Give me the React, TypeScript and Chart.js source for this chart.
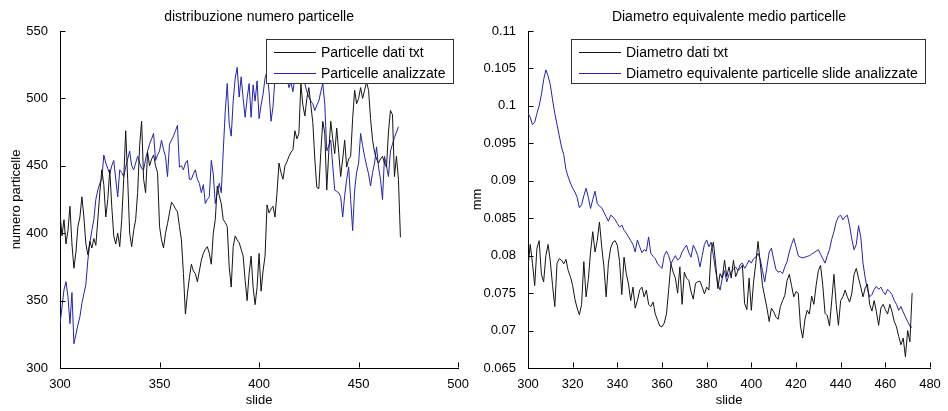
import { useEffect, useRef } from "react";
import { Chart, registerables } from "chart.js";

Chart.register(...registerables);

// ---- data (slide index starts at 300, one value per slide) ----
const SLIDE_START = 300;

const particelleDatiTxt = [
  415, 398, 410, 392, 402, 420, 392, 374, 386, 405,
  412, 427, 412, 392, 384, 394, 389, 396, 391, 410,
  430, 447, 436, 412, 425, 447, 420, 398, 392, 400,
  390, 410, 440, 476, 440, 400, 390, 402, 410, 430,
  465, 483, 440, 430, 460, 450, 455, 458, 450, 445,
  405, 395, 389, 400, 407, 415, 423, 421, 418, 416,
  405, 395, 370, 340, 355, 367, 377, 372, 370, 364,
  372, 380, 385, 388, 390, 385, 377, 400, 410, 435,
  428, 422, 410, 408, 405, 375, 360, 390, 398, 395,
  393, 388, 383, 365, 350, 370, 383, 360, 347, 360,
  385, 357, 372, 383, 421, 415, 418, 420, 412, 430,
  452, 445, 440, 450, 453, 457, 460, 462, 476, 470,
  474, 511, 495, 487, 500, 508, 495, 482, 455, 434,
  433, 460, 483, 474, 432, 460, 483, 470, 459, 478,
  460, 442, 455, 469, 449, 455, 457, 485, 506, 496,
  500, 508, 500, 506, 512, 506, 485, 469, 460, 455,
  452, 455, 457, 452, 449, 475, 491, 488, 442, 457,
  440, 397,
];

const particelleAnalizzate = [
  333, 345, 358, 364, 353, 333, 356, 318, 325, 332,
  338, 348, 355, 362, 380, 393, 402, 410, 425, 432,
  437, 440, 458, 452, 448, 444, 450, 454, 440, 427,
  447, 445, 442, 449, 455, 461, 450, 447, 452, 457,
  452, 448, 447, 455, 461, 466, 470, 474, 454, 458,
  461, 469, 462, 457, 442, 466, 469, 472, 476, 480,
  449, 450, 447, 452, 454, 440, 440, 444, 447, 440,
  437, 430, 436, 422, 425, 427, 454, 444, 422, 430,
  437, 430, 461, 490, 511, 481, 472, 498, 515, 523,
  501, 516, 500, 486, 500, 511, 486, 510, 498, 513,
  485, 495, 503, 515, 520, 505, 483, 494, 515, 525,
  520, 512, 522, 518, 515, 508, 512, 505, 515, 520,
  512, 518, 514, 511, 505, 501, 498, 496, 491, 495,
  498, 505, 511, 496, 461, 465, 469, 450, 432, 431,
  430, 427, 412, 428, 440, 449, 425, 402, 432, 445,
  452, 474, 465, 457, 450, 444, 435, 445, 452, 464,
  449, 440, 425, 457, 450, 442, 461, 466, 471, 475,
  479,
];

const diametroDatiTxt = [
  0.0785, 0.0815, 0.079, 0.076, 0.081, 0.082, 0.0775, 0.0765, 0.08, 0.0815,
  0.0792, 0.076, 0.0732, 0.079, 0.0796, 0.0794, 0.0789, 0.0795, 0.078, 0.0772,
  0.076, 0.0742, 0.073, 0.0721, 0.0735, 0.0792, 0.0745, 0.0768, 0.0805, 0.0832,
  0.0805, 0.082, 0.0845, 0.0812, 0.0785, 0.0745, 0.079, 0.081, 0.0818, 0.082,
  0.0814, 0.0792, 0.0748, 0.0798, 0.0776, 0.0762, 0.074, 0.0758, 0.073, 0.074,
  0.0754, 0.0758, 0.0745, 0.0754, 0.0735, 0.0732, 0.0738, 0.0722, 0.0714, 0.0706,
  0.0705, 0.071, 0.0722, 0.0755, 0.0789, 0.0778, 0.077, 0.075, 0.0785, 0.0735,
  0.0778, 0.077, 0.0767, 0.0752, 0.0742, 0.0763, 0.0765, 0.0766, 0.0758, 0.0749,
  0.0758, 0.0754, 0.0806, 0.0818, 0.079, 0.0756, 0.0776, 0.077, 0.0794, 0.0772,
  0.0785, 0.077, 0.0794, 0.0772, 0.078, 0.0783, 0.0787, 0.0736, 0.0728, 0.077,
  0.0727, 0.0765, 0.079, 0.0819, 0.079, 0.076, 0.0745, 0.073, 0.0712, 0.073,
  0.0725, 0.0718, 0.0715, 0.0732, 0.074, 0.0747, 0.0767, 0.0775, 0.076, 0.0745,
  0.0752, 0.075, 0.0706, 0.069, 0.0715, 0.0727, 0.0722, 0.0746, 0.0735, 0.076,
  0.078, 0.0787, 0.076, 0.0723, 0.072, 0.0706, 0.074, 0.0775, 0.0735, 0.0707,
  0.074, 0.0745, 0.0754, 0.0745, 0.0738, 0.075, 0.0775, 0.0783, 0.077, 0.0758,
  0.0745, 0.0757, 0.0762, 0.0735, 0.0726, 0.074, 0.0725, 0.0707, 0.073, 0.0735,
  0.0728, 0.0722, 0.0735, 0.0725, 0.0712, 0.0705, 0.0692, 0.0681, 0.069, 0.0665,
  0.07, 0.0685, 0.075,
];

const diametroAnalizzate = [
  0.099, 0.0985, 0.0975, 0.0978, 0.099, 0.1, 0.1015, 0.1035, 0.1048, 0.104,
  0.1028, 0.1008, 0.099, 0.0975, 0.096, 0.0945, 0.0935, 0.0915, 0.0905, 0.0897,
  0.089, 0.0885, 0.0878, 0.0864, 0.0868, 0.088, 0.089, 0.0878, 0.0863, 0.0875,
  0.0886, 0.087, 0.0866, 0.0864, 0.0858, 0.0852, 0.0846, 0.0854, 0.0852, 0.0848,
  0.0843, 0.0838, 0.0841, 0.0834, 0.083, 0.0825, 0.082, 0.0815, 0.0805, 0.0821,
  0.0812, 0.0804, 0.0808, 0.0806, 0.0825, 0.0803, 0.0799, 0.0796, 0.0789, 0.0786,
  0.0783, 0.08, 0.0806, 0.08, 0.0789, 0.0795, 0.08, 0.0794, 0.0797, 0.0805,
  0.081, 0.0814, 0.0804, 0.0798, 0.0814, 0.0808, 0.08, 0.0785, 0.08, 0.0815,
  0.0821, 0.0812, 0.0818, 0.08, 0.078, 0.0763, 0.0754, 0.077, 0.078, 0.0765,
  0.0775, 0.0778, 0.0782, 0.0785, 0.078, 0.0788, 0.079, 0.0783, 0.0788, 0.0794,
  0.079, 0.0796, 0.0798, 0.0803, 0.0795, 0.078, 0.0765, 0.0785, 0.0805, 0.081,
  0.0795, 0.0782, 0.0778, 0.0779, 0.0776, 0.0785, 0.0792, 0.0805, 0.0815, 0.0823,
  0.0812, 0.08, 0.0798, 0.0797, 0.0798, 0.0799, 0.08, 0.0802, 0.0804, 0.0806,
  0.0808, 0.0802, 0.0796, 0.079, 0.08, 0.0808, 0.0822, 0.0832, 0.0845, 0.0852,
  0.0854, 0.0848, 0.0852, 0.0854, 0.084, 0.0822, 0.0808, 0.0815, 0.084, 0.0825,
  0.079, 0.077, 0.0755, 0.0745, 0.0748, 0.0755, 0.0759, 0.0755, 0.0758, 0.0752,
  0.0748, 0.0755, 0.0752, 0.0748, 0.074, 0.0735, 0.0727, 0.0732, 0.0725, 0.0718,
  0.0712, 0.0706, 0.0704,
];

const PARTICELLE_LEGEND = ["Particelle dati txt", "Particelle analizzate"];
const DIAMETRO_LEGEND = ["Diametro dati txt", "Diametro equivalente particelle slide analizzate"];

const FONT_FAMILY = '"Liberation Sans", Arial, Helvetica, sans-serif';
const LINE_BLACK = "#141414";
const LINE_BLUE = "#2222b4";
const PAGE_H = 411;

function toPoints(values: number[]) {
  return values.map((v, i) => ({ x: SLIDE_START + i, y: v }));
}

// Inward tick marks, panel title and a boxed legend drawn MATLAB-style.
const matlabDecor = {
  id: "matlabDecor",
  afterDatasetsDraw(chart: any, _args: any, opts: any) {
    const { ctx, chartArea } = chart;
    const { left, right, top, bottom } = chartArea;
    const xs = chart.scales.x;
    const ys = chart.scales.y;

    ctx.save();
    ctx.strokeStyle = "#000";
    ctx.lineWidth = 1;
    ctx.beginPath();
    const bx = Math.round(bottom) - 0.5;
    const lx = Math.round(left) + 0.5;
    xs.ticks.forEach((t: any) => {
      const px = Math.round(xs.getPixelForValue(t.value)) + 0.5;
      ctx.moveTo(px, bx);
      ctx.lineTo(px, bx - 5);
    });
    ys.ticks.forEach((t: any) => {
      const py = Math.round(ys.getPixelForValue(t.value)) + 0.5;
      ctx.moveTo(lx, py);
      ctx.lineTo(lx + 5, py);
    });
    ctx.stroke();

    // legend box
    ctx.font = `${opts.legendFontSize}px ${FONT_FAMILY}`;
    const labels: string[] = chart.data.datasets.map((d: any) => d.label);
    const textW = Math.max(...labels.map((l) => ctx.measureText(l).width));
    const boxW = Math.round(55 + textW + 8);
    const boxH = 45;
    const boxR = Math.round(right - opts.legendInsetRight);
    const boxL = boxR - boxW;
    const boxT = Math.round(top + opts.legendInsetTop);
    ctx.fillStyle = "#fff";
    ctx.fillRect(boxL, boxT, boxW, boxH);
    ctx.strokeStyle = "#333";
    ctx.strokeRect(boxL + 0.5, boxT + 0.5, boxW - 1, boxH - 1);
    ctx.textBaseline = "middle";
    ctx.textAlign = "left";
    chart.data.datasets.forEach((d: any, i: number) => {
      const rowY = Math.round(boxT + 12.5 + i * 21) + 0.5;
      ctx.strokeStyle = d.borderColor;
      ctx.beginPath();
      ctx.moveTo(boxL + 8, rowY);
      ctx.lineTo(boxL + 50, rowY);
      ctx.stroke();
      ctx.fillStyle = "#000";
      ctx.fillText(d.label, boxL + 55, rowY + 0.5);
    });

    // panel title
    ctx.font = `${opts.titleFontSize}px ${FONT_FAMILY}`;
    ctx.textAlign = "center";
    ctx.fillStyle = "#000";
    ctx.fillText(opts.title, (left + right) / 2, top - 14);
    ctx.restore();
  },
};

type PanelProps = {
  canvasLeft: number;
  canvasWidth: number;
  areaLeft: number;
  areaRight: number;
  title: string;
  yTitle: string;
  series: number[][];
  legend: string[];
  xMin: number;
  xMax: number;
  xStep: number;
  yMin: number;
  yMax: number;
  yStep: number;
  yTitlePad: number;
};

function Panel(p: PanelProps) {
  const ref = useRef<HTMLCanvasElement>(null);

  useEffect(() => {
    const tickFont = { family: FONT_FAMILY, size: 13 };
    const chart = new Chart(ref.current as HTMLCanvasElement, {
      type: "line",
      data: {
        datasets: [
          {
            label: p.legend[0],
            data: toPoints(p.series[0]),
            borderColor: LINE_BLACK,
            borderWidth: 1,
            pointRadius: 0,
            tension: 0,
            fill: false,
          },
          {
            label: p.legend[1],
            data: toPoints(p.series[1]),
            borderColor: LINE_BLUE,
            borderWidth: 1,
            pointRadius: 0,
            tension: 0,
            fill: false,
          },
        ],
      },
      options: {
        responsive: false,
        animation: false,
        devicePixelRatio: 1,
        events: [],
        layout: {
          padding: {
            top: 31,
            right: p.canvasWidth - p.areaRight,
            bottom: 0,
            left: 0,
          },
        },
        plugins: {
          legend: { display: false },
          tooltip: { enabled: false },
          matlabDecor: {
            title: p.title,
            titleFontSize: 14,
            legendFontSize: 14,
            legendInsetRight: 4,
            legendInsetTop: 8,
          },
        } as any,
        scales: {
          x: {
            type: "linear",
            min: p.xMin,
            max: p.xMax,
            grid: { display: false },
            border: { display: true, color: "#000", width: 1 },
            ticks: {
              stepSize: p.xStep,
              color: "#000",
              font: tickFont,
              padding: 1,
              maxRotation: 0,
              autoSkip: false,
            },
            title: {
              display: true,
              text: "slide",
              color: "#000",
              font: tickFont,
              padding: { top: 0, bottom: 3 },
            },
            afterFit: (s: any) => {
              s.height = 43;
            },
          },
          y: {
            type: "linear",
            min: p.yMin,
            max: p.yMax,
            grid: { display: false },
            border: { display: true, color: "#000", width: 1 },
            ticks: {
              stepSize: p.yStep,
              color: "#000",
              font: tickFont,
              padding: 4,
              autoSkip: false,
              callback: (v: any) => String(parseFloat(Number(v).toFixed(4))),
            },
            title: {
              display: true,
              text: p.yTitle,
              color: "#000",
              font: tickFont,
              padding: { top: p.yTitlePad, bottom: 0 },
            },
            afterFit: (s: any) => {
              s.width = p.areaLeft;
            },
          },
        },
      } as any,
      plugins: [matlabDecor],
    });
    return () => chart.destroy();
  }, []);

  return (
    <canvas
      ref={ref}
      width={p.canvasWidth}
      height={PAGE_H}
      style={{
        position: "absolute",
        left: p.canvasLeft,
        top: 0,
        width: p.canvasWidth,
        height: PAGE_H,
      }}
    />
  );
}

export default function App() {
  return (
    <div
      style={{
        position: "fixed",
        left: 0,
        top: 0,
        width: 948,
        height: PAGE_H,
        background: "#fff",
        overflow: "hidden",
      }}
    >
      <Panel
        canvasLeft={0}
        canvasWidth={470}
        areaLeft={60}
        areaRight={460}
        title="distribuzione numero particelle"
        yTitle="numero particelle"
        series={[particelleDatiTxt, particelleAnalizzate]}
        legend={PARTICELLE_LEGEND}
        xMin={300}
        xMax={500}
        xStep={50}
        yMin={300}
        yMax={550}
        yStep={50}
        yTitlePad={9}
      />
      <Panel
        canvasLeft={460}
        canvasWidth={488}
        areaLeft={68}
        areaRight={470}
        title="Diametro equivalente medio particelle"
        yTitle="mm"
        series={[diametroDatiTxt, diametroAnalizzate]}
        legend={DIAMETRO_LEGEND}
        xMin={300}
        xMax={480}
        xStep={20}
        yMin={0.065}
        yMax={0.11}
        yStep={0.005}
        yTitlePad={10}
      />
    </div>
  );
}
